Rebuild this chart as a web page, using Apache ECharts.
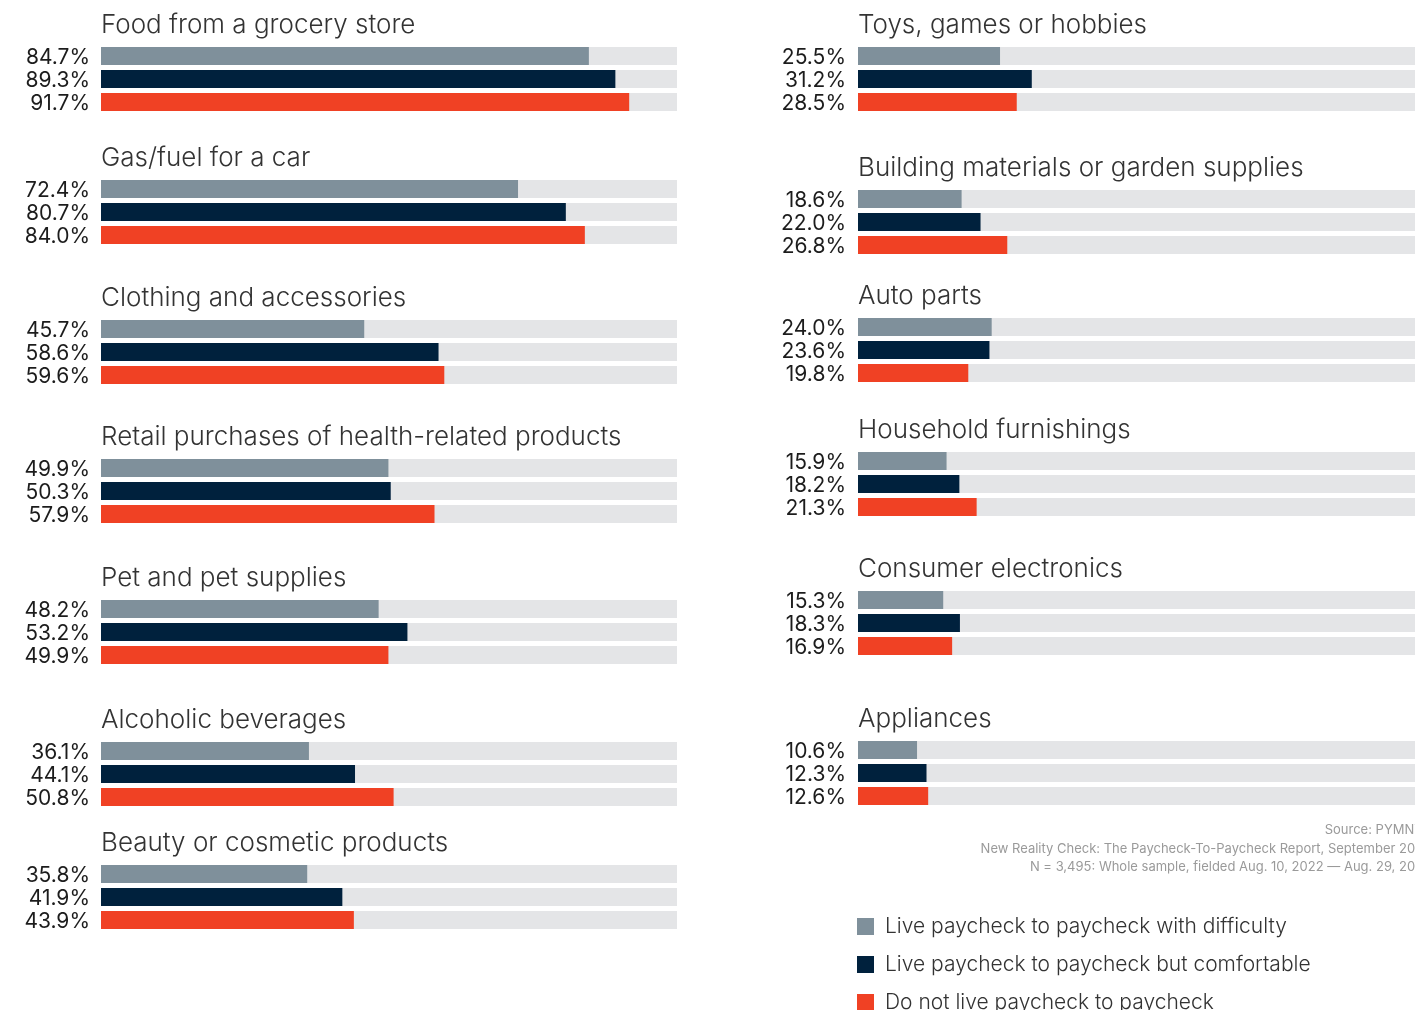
<!DOCTYPE html>
<html>
<head>
<meta charset="utf-8">
<script src="https://cdn.jsdelivr.net/npm/echarts@6/dist/echarts.min.js"></script>
<style>
html,body{margin:0;padding:0;background:#fff;}
#chart{width:1415px;height:1010px;}
</style>
</head>
<body>
<div id="chart"></div>
<script>
// ---- data ----
const categories = [
  'Food from a grocery store',
  'Gas/fuel for a car',
  'Clothing and accessories',
  'Retail purchases of health-related products',
  'Pet and pet supplies',
  'Alcoholic beverages',
  'Beauty or cosmetic products',
  'Toys, games or hobbies',
  'Building materials or garden supplies',
  'Auto parts',
  'Household furnishings',
  'Consumer electronics',
  'Appliances'
];
const seriesNames = [
  'Live paycheck to paycheck with difficulty',
  'Live paycheck to paycheck but comfortable',
  'Do not live paycheck to paycheck'
];
const withDifficulty = [84.7, 72.4, 45.7, 49.9, 48.2, 36.1, 35.8, 25.5, 18.6, 24.0, 15.9, 15.3, 10.6];
const butComfortable = [89.3, 80.7, 58.6, 50.3, 53.2, 44.1, 41.9, 31.2, 22.0, 23.6, 18.2, 18.3, 12.3];
const notPaycheck    = [91.7, 84.0, 59.6, 57.9, 49.9, 50.8, 43.9, 28.5, 26.8, 19.8, 21.3, 16.9, 12.6];
const sourceLines = [
  'Source: PYMNTS',
  'New Reality Check: The Paycheck-To-Paycheck Report, September 2022',
  'N = 3,495: Whole sample, fielded Aug. 10, 2022 \u2014 Aug. 29, 2022'
];

// ---- layout (positions kept separate from data) ----
const colors = ['#7f909b', '#00213d', '#f04124'];
const trackColor = '#e4e5e7';
const barTops = [47, 180, 320, 459, 600, 742, 865, 47, 190, 318, 452, 591, 741];
const colLeft = [101, 101, 101, 101, 101, 101, 101, 858, 858, 858, 858, 858, 858];
const trackWidth = 576;
const FONT = "Inter, 'Open Sans', sans-serif";

const values = [withDifficulty, butComfortable, notPaycheck];
const grids = [], xAxes = [], yAxes = [], series = [], titles = [];

categories.forEach((cat, g) => {
  grids.push({ left: colLeft[g], top: barTops[g] - 2.5, width: trackWidth, height: 69, containLabel: false });
  xAxes.push({ type: 'value', gridIndex: g, min: 0, max: 100, show: false });
  yAxes.push({ type: 'category', gridIndex: g, data: ['0', '1', '2'], inverse: true, show: false });
  titles.push({
    text: cat, left: colLeft[g], top: barTops[g] - 35, padding: 0,
    textStyle: { fontFamily: FONT, fontWeight: 300, fontSize: 26, color: '#333', lineHeight: 27 }
  });
  seriesNames.forEach((name, k) => {
    series.push({
      name: name,
      type: 'bar',
      xAxisIndex: g,
      yAxisIndex: g,
      barWidth: 18,
      barGap: '-100%',
      z: k === 0 ? 2 : 3,
      showBackground: k === 0,
      backgroundStyle: { color: trackColor },
      itemStyle: { color: colors[k] },
      label: {
        show: true, position: 'left', distance: g < 7 ? 11 : 12,
        offset: [0, 2],
        fontFamily: FONT, fontSize: 21, color: '#1c1c1c',
        formatter: p => Number(p.value).toFixed(1) + '%'
      },
      emphasis: { disabled: true },
      data: [0, 1, 2].map(i => (i === k ? values[k][g] : '-'))
    });
  });
});

const graphics = sourceLines.map((t, i) => ({
  type: 'text', right: -16, top: 824 + i * 18.5,
  style: { text: t, fill: '#9a9a9a', font: "13px Inter, 'Open Sans', sans-serif", textAlign: 'right' }
}));

const legends = seriesNames.map((name, k) => ({
  data: [name],
  orient: 'vertical',
  left: 857, top: 916 + k * 38,
  padding: 0,
  itemWidth: 17, itemHeight: 17,
  icon: 'rect',
  selectedMode: false,
  textStyle: { fontFamily: FONT, fontWeight: 300, fontSize: 21, color: '#333', lineHeight: 20, padding: [0, 0, 0, 6] }
}));

const chart = echarts.init(document.getElementById('chart'), null, { renderer: 'canvas' });
chart.setOption({
  animation: false,
  backgroundColor: '#ffffff',
  title: titles,
  grid: grids,
  xAxis: xAxes,
  yAxis: yAxes,
  series: series,
  legend: legends,
  graphic: graphics
});
</script>
</body>
</html>
